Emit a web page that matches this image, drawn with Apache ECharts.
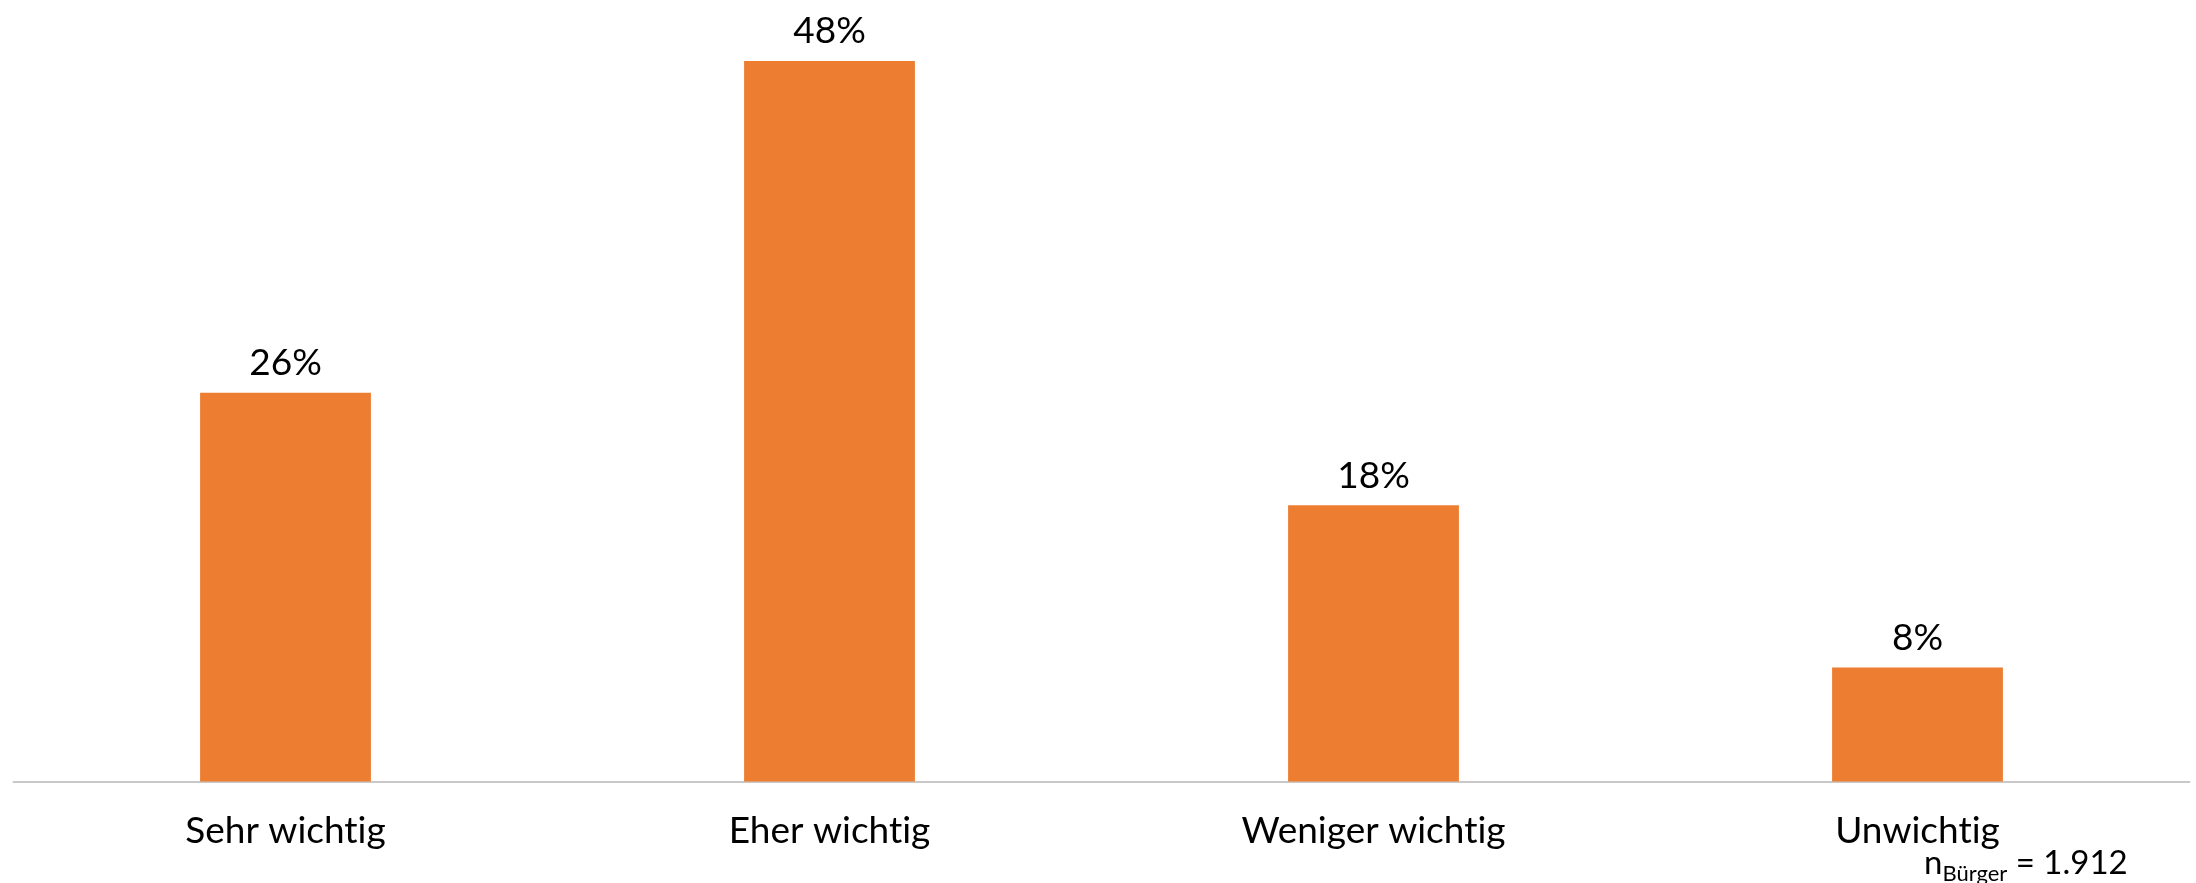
<!DOCTYPE html>
<html><head><meta charset="utf-8">
<script src="https://cdn.jsdelivr.net/npm/echarts@6/dist/echarts.min.js"></script>
<style>html,body{margin:0;padding:0;background:#fff}#c{width:2196px;height:883px}</style>
</head><body><div id="c"></div>
<script>
const categories = ["Sehr wichtig", "Eher wichtig", "Weniger wichtig", "Unwichtig"];
const values = [25.9, 48, 18.4, 7.6];
const sampleLabel = "Bürger";
const sampleValue = "= 1.912";

// avoid the "ti" ligature of Lato (not present in the reference)
const noLig = s => s.replace(/ti/g, 't\u200Ci');

const chart = echarts.init(document.getElementById('c'), null, {renderer: 'canvas'});
chart.setOption({
  animation: false,
  backgroundColor: '#ffffff',
  grid: {left: 13.5, right: 6.5, top: 31, bottom: 101.5, containLabel: false},
  xAxis: {
    type: 'category', data: categories,
    axisLine: {lineStyle: {color: '#C8C8C8', width: 2}},
    axisTick: {show: false},
    axisLabel: {fontFamily: 'Lato', fontSize: 37, color: '#000', margin: 31,
      formatter: v => noLig(v)}
  },
  yAxis: {type: 'value', min: 0, max: 50, show: false, splitLine: {show: false}},
  series: [{
    type: 'bar', data: values, barWidth: '31.4%',
    itemStyle: {color: '#ED7D31'},
    label: {show: true, position: 'top', distance: 11,
      formatter: p => Math.round(p.value) + '%',
      fontFamily: 'Lato', fontSize: 37, color: '#000'}
  }],
  graphic: [{
    type: 'text', left: 1924, top: 847,
    style: {
      text: '{n|n}{s|' + sampleLabel + '}{v| ' + sampleValue + '}',
      rich: {
        n: {fontFamily: 'Lato', fontSize: 33, fill: '#000', verticalAlign: 'bottom'},
        s: {fontFamily: 'Lato', fontSize: 22, fill: '#000', verticalAlign: 'bottom', padding: [0,0,-5,0]},
        v: {fontFamily: 'Lato', fontSize: 33, fill: '#000', verticalAlign: 'bottom'}
      }
    }
  }]
});
</script></body></html>
